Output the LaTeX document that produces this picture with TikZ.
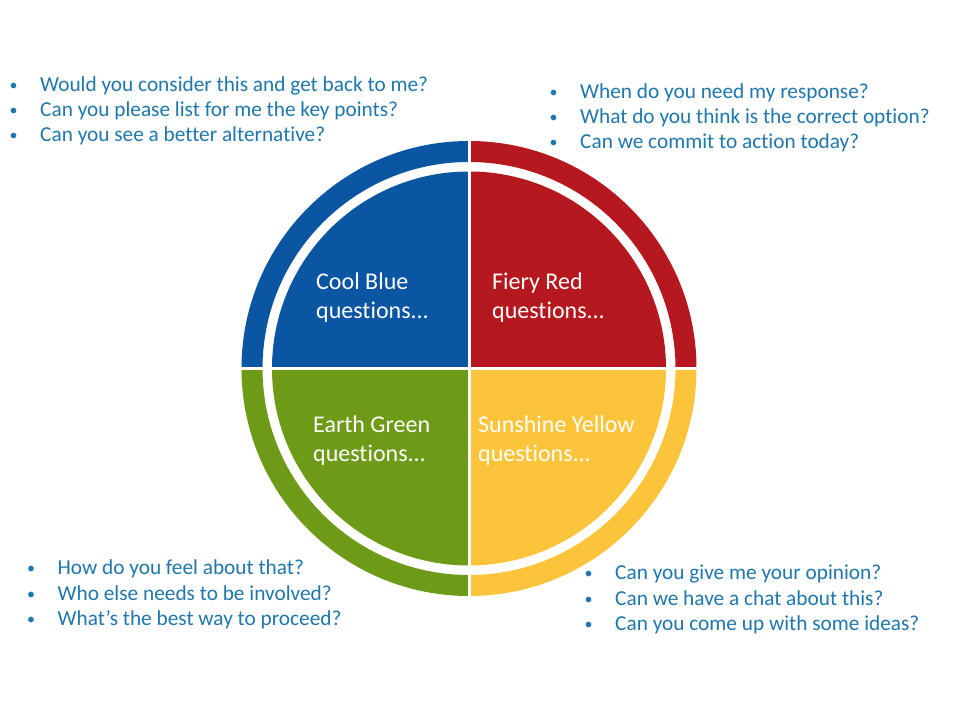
\documentclass[tikz,border=0pt]{standalone}
\usepackage{fontspec}
\setmainfont{Carlito}[Ligatures=NoCommon]
\usetikzlibrary{calc}
\definecolor{cblue}{HTML}{0B56A2}
\definecolor{cred}{HTML}{B5181E}
\definecolor{cgreen}{HTML}{6E9B17}
\definecolor{cyellow}{HTML}{FBC43B}
\definecolor{qtext}{HTML}{1F77AC}
\tikzset{
  qline/.style={anchor=base west, inner sep=0pt, text=qtext, font=\fontsize{21.3}{25.3}\selectfont},
  plabel/.style={anchor=base west, inner sep=0pt, text=white, font=\fontsize{24}{29}\selectfont},
}
\newcommand{\bul}{\makebox[27pt][l]{\hspace{-3.5pt}\raisebox{1pt}{\fontsize{16}{16}\selectfont •}}}
\begin{document}
\begin{tikzpicture}[x=1pt,y=1pt]
\useasboundingbox (0,0) rectangle (960,720);
\fill[white] (0,0) rectangle (960,720);
\coordinate (C) at (469,351.5);
% pie quadrants
\fill[cred] (C) -- ++(0:197) arc[start angle=0,end angle=90,radius=197] -- cycle;
\fill[cblue] (C) -- ++(90:197) arc[start angle=90,end angle=180,radius=197] -- cycle;
\fill[cgreen] (C) -- ++(180:197) arc[start angle=180,end angle=270,radius=197] -- cycle;
\fill[cyellow] (C) -- ++(270:197) arc[start angle=270,end angle=360,radius=197] -- cycle;
% ring sectors
\fill[cred] ($(C)+(0:227.5)$) arc[start angle=0,end angle=90,radius=227.5] -- ($(C)+(90:206.5)$) arc[start angle=90,end angle=0,radius=206.5] -- cycle;
\fill[cblue] ($(C)+(90:227.5)$) arc[start angle=90,end angle=180,radius=227.5] -- ($(C)+(180:206.5)$) arc[start angle=180,end angle=90,radius=206.5] -- cycle;
\fill[cgreen] ($(C)+(180:227.5)$) arc[start angle=180,end angle=270,radius=227.5] -- ($(C)+(270:206.5)$) arc[start angle=270,end angle=180,radius=206.5] -- cycle;
\fill[cyellow] ($(C)+(270:227.5)$) arc[start angle=270,end angle=360,radius=227.5] -- ($(C)+(360:206.5)$) arc[start angle=360,end angle=270,radius=206.5] -- cycle;
% separators
\draw[white, line width=3pt] ($(C)+(0,235)$) -- ($(C)+(0,-235)$);
\draw[white, line width=3pt] ($(C)+(-235,0)$) -- ($(C)+(235,0)$);
% quadrant labels
\node[plabel] (lb1) at (316,430.7) {Cool Blue};
\node[plabel] (lb2) at (316,401.7) {questions...};
\node[plabel] (lr1) at (492,430.7) {Fiery Red};
\node[plabel] (lr2) at (492,401.7) {questions...};
\node[plabel] (lg1) at (313,287.7) {Earth Green};
\node[plabel] (lg2) at (313,258.7) {questions...};
\node[plabel] (ly1) at (478,287.7) {Sunshine Yellow};
\node[plabel] (ly2) at (478,258.7) {questions...};
% top-left
\node[qline] (tl1) at (13,628.5) {\bul Would you consider this and get back to me?};
\node[qline] (tl2) at (13,603.3) {\bul Can you please list for me the key points?};
\node[qline] (tl3) at (13,578.3) {\bul Can you see a better alternative?};
% top-right
\node[qline] (tr1) at (553,621.7) {\bul When do you need my response?};
\node[qline] (tr2) at (553,596.7) {\bul What do you think is the correct option?};
\node[qline] (tr3) at (553,571.7) {\bul Can we commit to action today?};
% bottom-left
\node[qline] (bl1) at (30.5,145.2) {\bul How do you feel about that?};
\node[qline] (bl2) at (30.5,119.7) {\bul Who else needs to be involved?};
\node[qline] (bl3) at (30.5,94.2) {\bul What’s the best way to proceed?};
% bottom-right
\node[qline] (br1) at (588,140.7) {\bul Can you give me your opinion?};
\node[qline] (br2) at (588,115) {\bul Can we have a chat about this?};
\node[qline] (br3) at (588,90) {\bul Can you come up with some ideas?};
\end{tikzpicture}
\end{document}
